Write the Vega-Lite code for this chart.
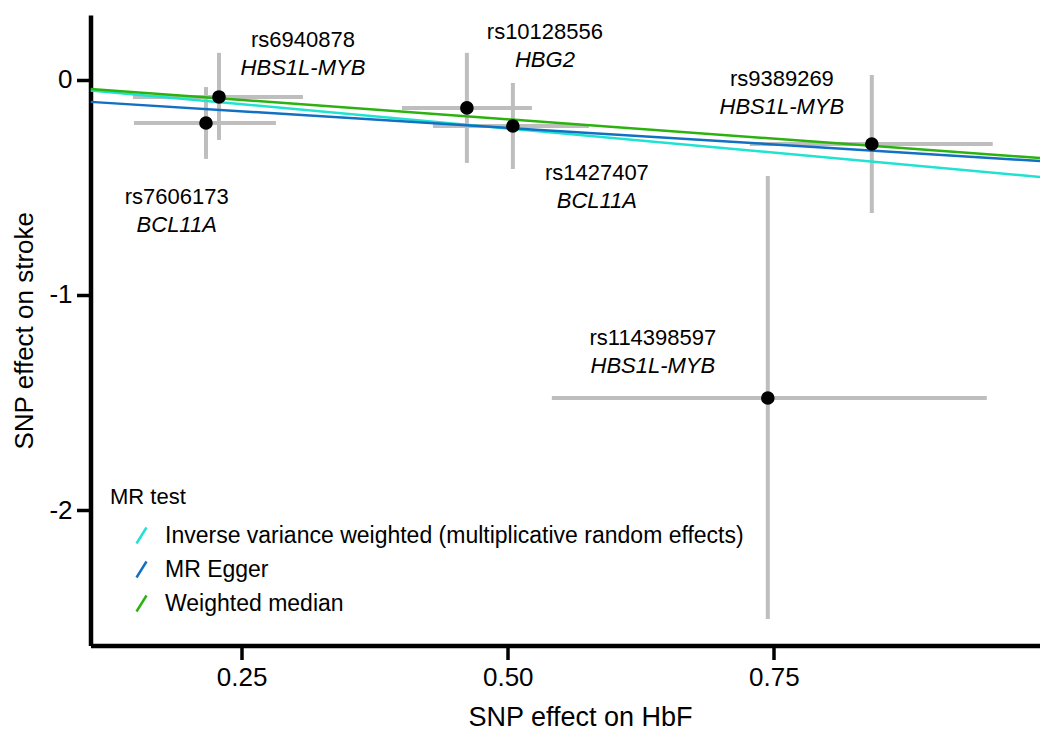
{
  "$schema": "https://vega.github.io/schema/vega-lite/v6.json",
  "width": 949.5,
  "height": 630.5,
  "autosize": {"type": "none"},
  "padding": {"left": 90.5, "top": 15, "right": 0, "bottom": 88.5},
  "background": "white",
  "config": {
    "view": {"stroke": null},
    "font": "Liberation Sans",
    "axis": {
      "grid": false,
      "domainColor": "black",
      "domainWidth": 4.5,
      "tickColor": "black",
      "tickWidth": 3.5,
      "tickSize": 14,
      "labelColor": "black",
      "labelFontSize": 26,
      "labelFont": "Liberation Sans",
      "titleFont": "Liberation Sans",
      "titleFontSize": 26,
      "titleFontWeight": "normal",
      "titleColor": "black"
    },
    "text": {"font": "Liberation Sans", "color": "black"}
  },
  "datasets": {
    "snps": [
      {"snp": "rs7606173", "gene": "BCL11A", "bx": 0.2165, "by": -0.200, "bx_lo": 0.1488, "bx_hi": 0.2822, "by_lo": -0.367, "by_hi": -0.033},
      {"snp": "rs6940878", "gene": "HBS1L-MYB", "bx": 0.2287, "by": -0.079, "bx_lo": 0.1479, "bx_hi": 0.3076, "by_lo": -0.279, "by_hi": 0.126},
      {"snp": "rs10128556", "gene": "HBG2", "bx": 0.4616, "by": -0.130, "bx_lo": 0.4006, "bx_hi": 0.5227, "by_lo": -0.386, "by_hi": 0.126},
      {"snp": "rs1427407", "gene": "BCL11A", "bx": 0.5048, "by": -0.214, "bx_lo": 0.4297, "bx_hi": 0.5762, "by_lo": -0.414, "by_hi": -0.014},
      {"snp": "rs9389269", "gene": "HBS1L-MYB", "bx": 0.842, "by": -0.298, "bx_lo": 0.7274, "bx_hi": 0.9556, "by_lo": -0.619, "by_hi": 0.023},
      {"snp": "rs114398597", "gene": "HBS1L-MYB", "bx": 0.7443, "by": -1.479, "bx_lo": 0.5414, "bx_hi": 0.95, "by_lo": -2.507, "by_hi": -0.4465}
    ],
    "labels": [
      {"snp": "rs7606173", "gene": "BCL11A", "lx": 0.189, "ly": -0.544},
      {"snp": "rs6940878", "gene": "HBS1L-MYB", "lx": 0.3076, "ly": 0.186},
      {"snp": "rs10128556", "gene": "HBG2", "lx": 0.5349, "ly": 0.223},
      {"snp": "rs1427407", "gene": "BCL11A", "lx": 0.5837, "ly": -0.433},
      {"snp": "rs9389269", "gene": "HBS1L-MYB", "lx": 0.7575, "ly": 0.005},
      {"snp": "rs114398597", "gene": "HBS1L-MYB", "lx": 0.6363, "ly": -1.2}
    ],
    "fits": [
      {"method": "Inverse variance weighted (multiplicative random effects)", "x": 0.108, "y": -0.049},
      {"method": "Inverse variance weighted (multiplicative random effects)", "x": 1.0, "y": -0.451},
      {"method": "MR Egger", "x": 0.108, "y": -0.102},
      {"method": "MR Egger", "x": 1.0, "y": -0.377},
      {"method": "Weighted median", "x": 0.108, "y": -0.042},
      {"method": "Weighted median", "x": 1.0, "y": -0.363}
    ]
  },
  "layer": [
    {
      "data": {"name": "snps"},
      "mark": {"type": "rule", "color": "#bebebe", "strokeWidth": 4},
      "encoding": {
        "x": {"field": "bx_lo", "type": "quantitative", "title": "SNP effect on HbF",
          "scale": {"domain": [0.108, 1.0], "nice": false, "zero": false},
          "axis": {"values": [0.25, 0.5, 0.75], "format": ".2f", "labelPadding": 5, "titlePadding": 14, "titleFontSize": 27, "titleX": 489.5}},
        "x2": {"field": "bx_hi"},
        "y": {"field": "by", "type": "quantitative", "title": "SNP effect on stroke",
          "scale": {"domain": [-2.63, 0.302], "nice": false, "zero": false},
          "axis": {"values": [-2, -1, 0], "labelExpr": "datum.value + ''", "labelPadding": 4.5, "titlePadding": 11}}
      }
    },
    {
      "data": {"name": "snps"},
      "mark": {"type": "rule", "color": "#bebebe", "strokeWidth": 4},
      "encoding": {
        "x": {"field": "bx", "type": "quantitative", "title": "SNP effect on HbF"},
        "y": {"field": "by_lo", "type": "quantitative", "title": "SNP effect on stroke"},
        "y2": {"field": "by_hi"}
      }
    },
    {
      "data": {"name": "fits"},
      "mark": {"type": "line", "strokeWidth": 2.5, "clip": true},
      "encoding": {
        "x": {"field": "x", "type": "quantitative", "title": "SNP effect on HbF"},
        "y": {"field": "y", "type": "quantitative", "title": "SNP effect on stroke"},
        "color": {
          "field": "method", "type": "nominal",
          "scale": {
            "domain": ["Inverse variance weighted (multiplicative random effects)", "MR Egger", "Weighted median"],
            "range": ["#1fe3d0", "#1270c2", "#2bb20f"]
          },
          "legend": {
            "title": "MR test",
            "orient": "none",
            "legendX": 19.5,
            "legendY": 472,
            "padding": 0,
            "symbolType": "M-0.5,0.8L0.5,-0.8",
            "symbolSize": 400,
            "symbolStrokeWidth": 2.5,
            "symbolOffset": 20,
            "labelOffset": 12,
            "labelFontSize": 23,
            "labelColor": "black",
            "labelLimit": 1000,
            "titleFontSize": 22,
            "titleFontWeight": "normal",
            "titleColor": "black",
            "titlePadding": 15,
            "rowPadding": 7
          }
        }
      }
    },
    {
      "data": {"name": "snps"},
      "mark": {"type": "circle", "size": 185, "color": "black", "opacity": 1},
      "encoding": {
        "x": {"field": "bx", "type": "quantitative", "title": "SNP effect on HbF"},
        "y": {"field": "by", "type": "quantitative", "title": "SNP effect on stroke"}
      }
    },
    {
      "data": {"name": "labels"},
      "mark": {"type": "text", "fontSize": 22, "align": "center", "baseline": "middle"},
      "encoding": {
        "x": {"field": "lx", "type": "quantitative", "title": "SNP effect on HbF"},
        "y": {"field": "ly", "type": "quantitative", "title": "SNP effect on stroke"},
        "text": {"field": "snp"}
      }
    },
    {
      "data": {"name": "labels"},
      "mark": {"type": "text", "fontSize": 22, "fontStyle": "italic", "align": "center", "baseline": "middle", "dy": 28},
      "encoding": {
        "x": {"field": "lx", "type": "quantitative", "title": "SNP effect on HbF"},
        "y": {"field": "ly", "type": "quantitative", "title": "SNP effect on stroke"},
        "text": {"field": "gene"}
      }
    }
  ]
}
